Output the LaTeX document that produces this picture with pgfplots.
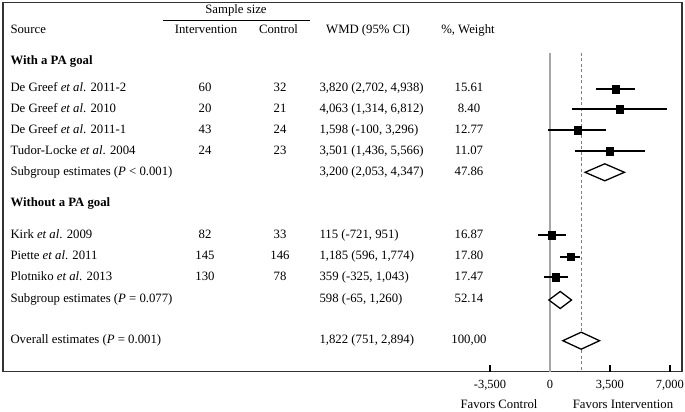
\documentclass[border=0pt]{standalone}
\usepackage{fontspec}
\setmainfont{Liberation Serif}
\usepackage{pgfplots}
\pgfplotsset{compat=1.18}
\usepackage{pgfplotstable}
% y = row position (negative = downwards from top of frame)
\pgfplotstableread{
y est lo hi
-89.0 3820 2702 4938
-109.3 4063 1314 6812
-130.3 1598 -100 3296
-151.3 3501 1436 5566
-235.3 115 -721 951
-256.7 1185 596 1774
-277.3 359 -325 1043
}\studies
\begin{document}
\begin{tikzpicture}[font=\fontsize{12.8}{15.4}\selectfont]
\begin{axis}[name=ax, scale only axis, width=679bp, height=369bp,
 xmin=-31940, xmax=7710, ymin=-371.5, ymax=-2.5,
 axis line style={black!80, line width=1.6bp},
 scaled x ticks=false,
 xtick={-3500,0,3500,7000}, xticklabels={{-3,500},{0},{3,500},{7,000}},
 xtick pos=left, ytick=\empty, tick align=inside, major tick length=7bp,
 xtick style={black, line width=1.6bp},
 xticklabel style={font=\fontsize{12.5}{15}\selectfont, inner sep=0pt, anchor=north, yshift=-9bp},
 /pgf/number format/assume math mode=true,
 unbounded coords=jump,
 clip=false]
\addplot[black, line width=1.6bp] coordinates {(-3500,-371.5) (-3500,-364.5) (nan,nan) (3500,-371.5) (3500,-364.5) (nan,nan) (7000,-371.5) (7000,-364.5)};
\addplot[gray!70, line width=1.4bp] coordinates {(0,-53) (0,-371.5)};
\addplot[gray, dashed, line width=0.6bp, dash pattern=on 3bp off 2.5bp] coordinates {(1822,-53) (1822,-371.5)};
\addplot[only marks, mark=square*, mark size=3.9bp, mark options={xscale=0.88}, black,
 error bars/.cd, x dir=both, x explicit, error mark=none,
 error bar style={line width=2bp, black, solid}]
 table[x=est, y=y, x error plus expr=\thisrow{hi}-\thisrow{est}, x error minus expr=\thisrow{est}-\thisrow{lo}] {\studies};
\addplot[draw=black, fill=white, line width=1.3bp] coordinates {(2053,-172.3) (3200,-163.8) (4347,-172.3) (3200,-180.8)} --cycle;
\addplot[draw=black, fill=white, line width=1.3bp] coordinates {(-65,-300) (598,-291.5) (1260,-300) (598,-308.5)} --cycle;
\addplot[draw=black, fill=white, line width=1.3bp] coordinates {(751,-340.7) (1822,-332.2) (2894,-340.7) (1822,-349.2)} --cycle;
\end{axis}
\begin{scope}[shift={(ax.north west)}, xshift=-3bp, yshift=2.5bp, x=1bp, y=-1bp]
\path (0,0) rectangle (685,411);
\draw[line width=1.2bp] (162.7,20.7) -- (310,20.7);
\node[anchor=base] at (236,14) {Sample size};
\node[anchor=base west] at (7,33.5) {Source};
\node[anchor=base] at (206,33.5) {Intervention};
\node[anchor=base] at (278.5,33.5) {Control};
\node[anchor=base] at (368,33.5) {WMD (95\% CI)};
\node[anchor=base] at (468,33.5) {\%, Weight};
\node[anchor=base west] at (7,64.5) {\textbf{With a PA goal}};
\node[anchor=base west] at (7,207) {\textbf{Without a PA goal}};
% rows
\foreach \yy/\src/\ni/\nc/\wmd/\w in {
 92.0/{De Greef \textit{et al}. 2011-2}/60/32/{3,820 (2,702, 4,938)}/15.61,
 112.3/{De Greef \textit{et al}. 2010}/20/21/{4,063 (1,314, 6,812)}/8.40,
 133.3/{De Greef \textit{et al}. 2011-1}/43/24/{1,598 (-100, 3,296)}/12.77,
 154.3/{Tudor-Locke \textit{et al}. 2004}/24/23/{3,501 (1,436, 5,566)}/11.07,
 175.3/{Subgroup estimates (\textit{P} < 0.001)}/{}/{}/{3,200 (2,053, 4,347)}/47.86,
 238.3/{Kirk \textit{et al}. 2009}/82/33/{115 (-721, 951)}/16.87,
 259.7/{Piette \textit{et al}. 2011}/145/146/{1,185 (596, 1,774)}/17.80,
 280.3/{Plotniko \textit{et al}. 2013}/130/78/{359 (-325, 1,043)}/17.47,
 303.0/{Subgroup estimates (\textit{P} = 0.077)}/{}/{}/{598 (-65, 1,260)}/52.14,
 343.7/{Overall estimates (\textit{P} = 0.001)}/{}/{}/{1,822 (751, 2,894)}/{100,00}}{
 \node[anchor=base west] at (7,\yy) {\src};
 \node[anchor=base] at (205,\yy) {\ni};
 \node[anchor=base] at (280,\yy) {\nc};
 \node[anchor=base west] at (316,\yy) {\wmd};
 \node[anchor=base] at (469,\yy) {\w};
}
\node[anchor=base] at (499,408.5) {Favors Control};
\node[anchor=base] at (623,408.5) {Favors Intervention};
\end{scope}
\end{tikzpicture}
\end{document}
